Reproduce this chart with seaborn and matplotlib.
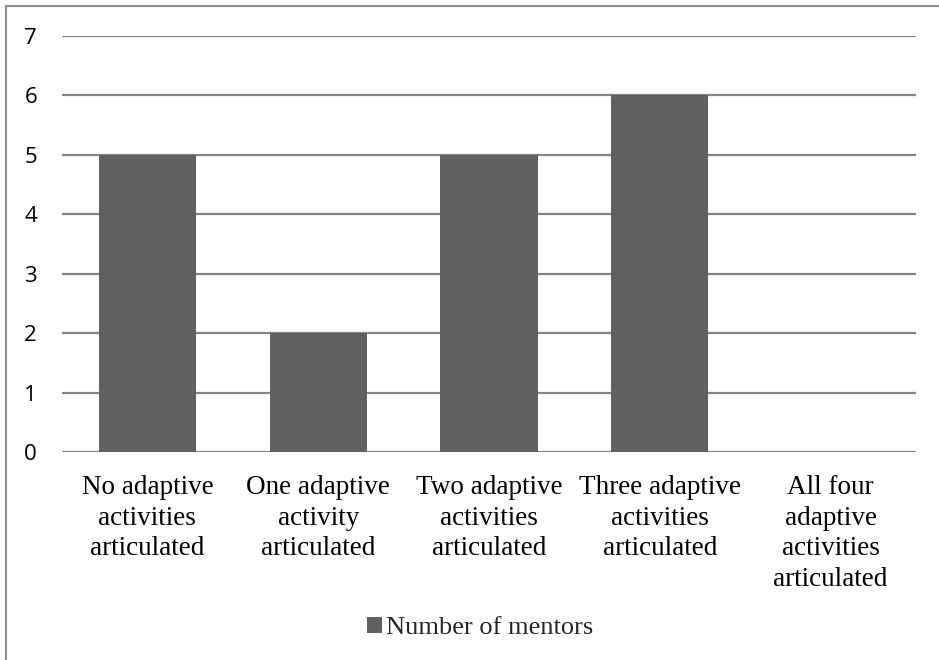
import pandas as pd
import matplotlib.pyplot as plt
import seaborn as sns
from matplotlib.patches import Rectangle, Patch

categories = [
    'No adaptive\nactivities\narticulated',
    'One adaptive\nactivity\narticulated',
    'Two adaptive\nactivities\narticulated',
    'Three adaptive\nactivities\narticulated',
    'All four\nadaptive\nactivities\narticulated',
]
mentors = [5, 2, 5, 6, 0]
series_name = 'Number of mentors'

df = pd.DataFrame({'category': categories, 'value': mentors})

sns.set_theme(style='white')
plt.rcParams['font.family'] = ['Open Sans', 'DejaVu Sans']

bar_color = '#606060'
grid_color = '#868686'

fig = plt.figure(figsize=(9.39, 6.6), dpi=100)
ax = fig.add_axes([62 / 939, 1 - 452 / 660, (916 - 62) / 939, (452 - 36) / 660])

sns.barplot(data=df, x='category', y='value', color=bar_color, saturation=1,
            width=0.57, linewidth=0, ax=ax, zorder=3)

ax.set_ylim(0, 7)
ax.set_yticks(range(0, 8))
ax.set_xlim(-0.5, len(categories) - 0.5)
ax.set_xlabel('')
ax.set_ylabel('')
for y in range(0, 8):
    ax.axhline(y, color=grid_color, lw=1.6, zorder=1)
for s in ax.spines.values():
    s.set_visible(False)

ax.tick_params(axis='y', length=0, pad=18, labelsize=16, labelcolor='black')
ax.tick_params(axis='x', length=0, pad=16.5)
ax.set_xticks(range(len(categories)))
ax.set_xticklabels(categories, family='Liberation Serif', fontsize=19.5,
                   linespacing=1.3, va='top', color='black')

# legend at the bottom
handle = Patch(facecolor=bar_color, edgecolor='none')
fig.legend([handle], [series_name], loc='center', bbox_to_anchor=(480 / 939, 1 - 628 / 660),
           frameon=False, prop={'family': 'Liberation Serif', 'size': 19},
           handlelength=0.55, handleheight=0.55, handletextpad=0.15)

# chart border (clipped at right and bottom)
fig.patches.append(Rectangle((6 / 939, -0.1), 1.2, 1 - 6 / 660 + 0.1,
                             transform=fig.transFigure, fill=False,
                             edgecolor='#8c8c8c', lw=1.5))

fig.savefig('out.png', dpi=100)
